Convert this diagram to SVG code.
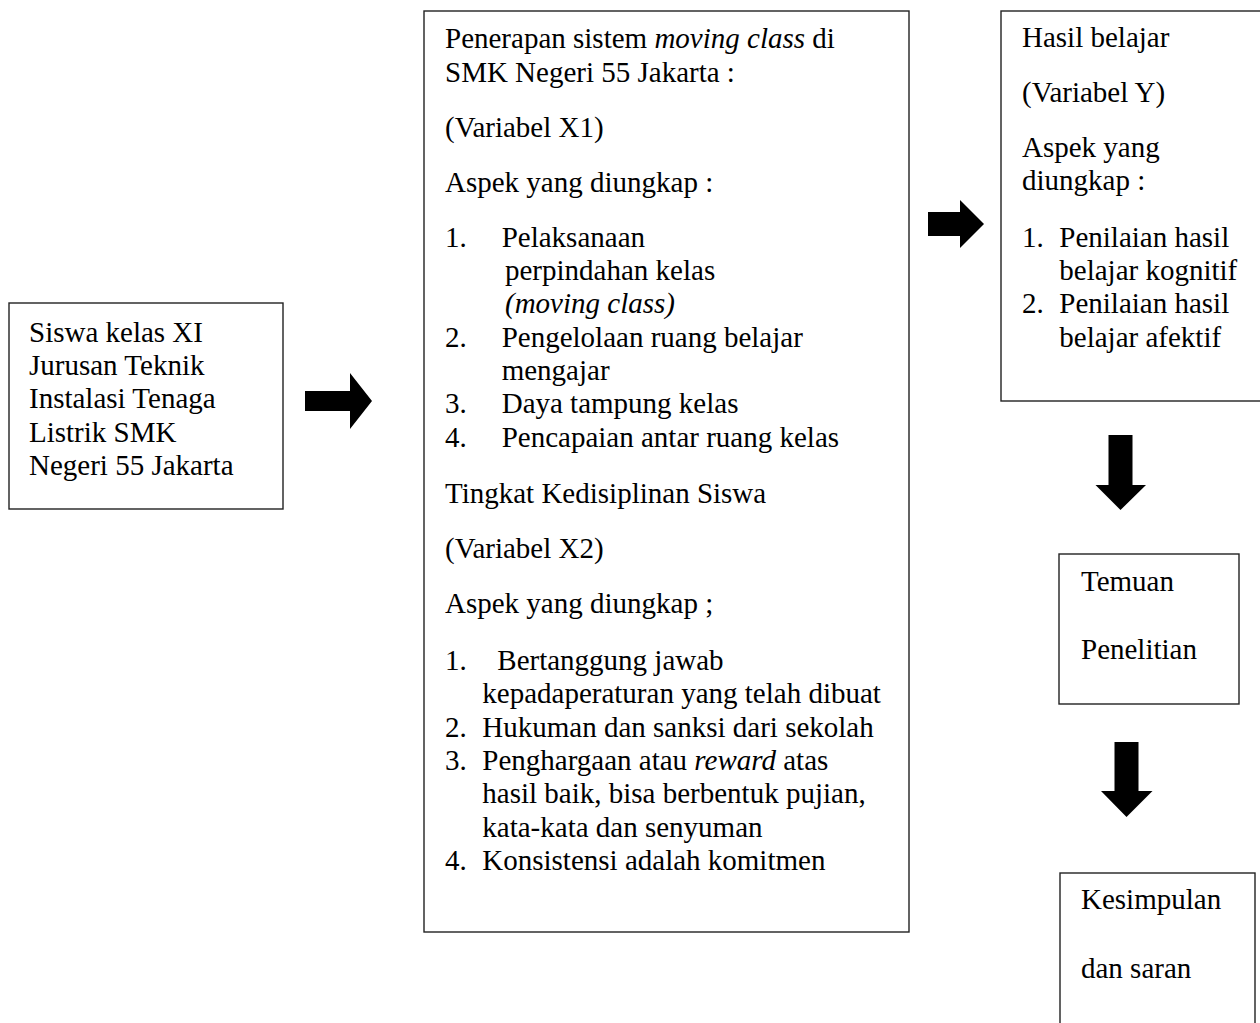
<svg xmlns="http://www.w3.org/2000/svg" width="1260" height="1023" viewBox="0 0 1260 1023">
<style>
  .box { fill: #fff; stroke: #222; stroke-width: 1.4; }
  text { font-family: "Liberation Serif", "Times New Roman", serif; font-size: 29px; fill: #000; }
  .it { font-style: italic; }
  .arrow { fill: #000; }
</style>
<rect width="1260" height="1023" fill="#fff"/>
<g id="connectors">
  <path class="arrow" d="M305,391 H350 V373 L372,401 L350,429 V411 H305 Z"/>
  <path class="arrow" d="M928,212 H960 V200 L984,224 L960,248 V236 H928 Z"/>
  <path class="arrow" d="M1108.5,435 H1132.5 V485 H1146 L1120.5,510 L1095.5,485 H1108.5 Z"/>
  <path class="arrow" d="M1114.5,742 H1138.5 V791 H1152.5 L1126.5,817 L1101,791 H1114.5 Z"/>
</g>
<g id="node-siswa">
  <rect class="box" x="9" y="303" width="274" height="206"/>
  <text x="29" y="341.7">Siswa kelas XI</text>
  <text x="29" y="375">Jurusan Teknik</text>
  <text x="29" y="408.3">Instalasi Tenaga</text>
  <text x="29" y="441.7">Listrik SMK</text>
  <text x="29" y="475">Negeri 55 Jakarta</text>
</g>
<g id="node-variabel-x">
  <rect class="box" x="424" y="11" width="485" height="921"/>
  <text x="445" y="47.7">Penerapan sistem <tspan class="it">moving class</tspan> di</text>
  <text x="445" y="81.7">SMK Negeri 55 Jakarta :</text>
  <text x="445" y="136.7">(Variabel X1)</text>
  <text x="445" y="191.7">Aspek yang diungkap :</text>
  <text x="445" y="246.7">1.</text>
  <text x="501.7" y="246.7">Pelaksanaan</text>
  <text x="505" y="280">perpindahan kelas</text>
  <text x="505" y="313.3" class="it">(moving class)</text>
  <text x="445" y="346.7">2.</text>
  <text x="501.7" y="346.7">Pengelolaan ruang belajar</text>
  <text x="501.7" y="380">mengajar</text>
  <text x="445" y="413.3">3.</text>
  <text x="501.7" y="413.3">Daya tampung kelas</text>
  <text x="445" y="446.7">4.</text>
  <text x="501.7" y="446.7">Pencapaian antar ruang kelas</text>
  <text x="445" y="503.3">Tingkat Kedisiplinan Siswa</text>
  <text x="445" y="558.3">(Variabel X2)</text>
  <text x="445" y="613.3">Aspek yang diungkap ;</text>
  <text x="445" y="670">1.</text>
  <text x="497.3" y="670">Bertanggung jawab</text>
  <text x="482.3" y="703.3">kepadaperaturan yang telah dibuat</text>
  <text x="445" y="736.7">2.</text>
  <text x="482.3" y="736.7">Hukuman dan sanksi dari sekolah</text>
  <text x="445" y="770">3.</text>
  <text x="482.3" y="770">Penghargaan atau <tspan class="it">reward</tspan> atas</text>
  <text x="482.3" y="803.3">hasil baik, bisa berbentuk pujian,</text>
  <text x="482.3" y="836.7">kata-kata dan senyuman</text>
  <text x="445" y="870">4.</text>
  <text x="482.3" y="870">Konsistensi adalah komitmen</text>
</g>
<g id="node-hasil-belajar">
  <rect class="box" x="1001" y="11" width="265" height="390"/>
  <text x="1022" y="47.3">Hasil belajar</text>
  <text x="1022" y="101.7">(Variabel Y)</text>
  <text x="1022" y="156.7">Aspek yang</text>
  <text x="1022" y="190">diungkap :</text>
  <text x="1022" y="246.7">1.</text>
  <text x="1059.3" y="246.7">Penilaian hasil</text>
  <text x="1059.3" y="280">belajar kognitif</text>
  <text x="1022" y="313.3">2.</text>
  <text x="1059.3" y="313.3">Penilaian hasil</text>
  <text x="1059.3" y="346.7">belajar afektif</text>
</g>
<g id="node-temuan">
  <rect class="box" x="1059" y="554" width="180" height="150"/>
  <text x="1081" y="591">Temuan</text>
  <text x="1081" y="658.5">Penelitian</text>
</g>
<g id="node-kesimpulan">
  <rect class="box" x="1060" y="873" width="195" height="170"/>
  <text x="1081" y="909">Kesimpulan</text>
  <text x="1081" y="977.5">dan saran</text>
</g>
</svg>
